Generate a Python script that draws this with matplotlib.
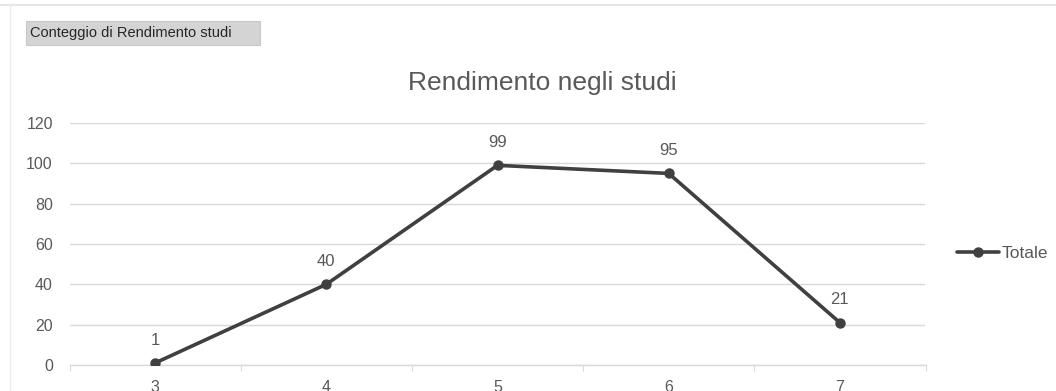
import matplotlib
matplotlib.use("Agg")
import matplotlib.pyplot as plt
from matplotlib.patches import Rectangle
from matplotlib.lines import Line2D

categories = ["3", "4", "5", "6", "7"]
totals = [1, 40, 99, 95, 21]
y_ticks = [0, 20, 40, 60, 80, 100, 120]
series_name = "Totale"
chart_title = "Rendimento negli studi"
field_button = "Conteggio di Rendimento studi"

W, H = 1056, 391
plt.rcParams["font.family"] = ["Liberation Sans", "DejaVu Sans"]
text_col = "#595959"
line_col = "#404040"
grid_col = "#d9d9d9"

fig = plt.figure(figsize=(W / 100, H / 100), dpi=100)
fig.patch.set_facecolor("white")

# frame edges of the chart area
fig.add_artist(Line2D([0, 1], [1 - 5 / H, 1 - 5 / H], transform=fig.transFigure, color="#e6e6e6", lw=1.5))
fig.add_artist(Line2D([10 / W, 10 / W], [0, 1 - 5 / H], transform=fig.transFigure, color="#ededed", lw=1))

# pivot field button
fig.add_artist(Rectangle((26 / W, 1 - 45 / H), 234 / W, 24 / H, transform=fig.transFigure,
                         facecolor="#d4d4d4", edgecolor="#c8c8c8", lw=0.8))
fig.text(30 / W, 1 - 33 / H, field_button, fontsize=10.5, color="#262626", va="center", ha="left")

fig.text(542 / W, 1 - 83 / H, chart_title, fontsize=19, color=text_col, ha="center", va="center")

left, right, top, bottom = 69.5, 925.5, 123, 365
ax = fig.add_axes([left / W, 1 - bottom / H, (right - left) / W, (bottom - top) / H])
x = list(range(len(categories)))
ax.plot(x, totals, color=line_col, lw=2.6, marker="o", ms=6.5, solid_capstyle="round", zorder=3, label=series_name)
for xi, v in zip(x, totals):
    ax.annotate(str(v), (xi, v), xytext=(0, 11), textcoords="offset points",
                ha="center", va="bottom", fontsize=12, color=text_col)

ax.set_xlim(-0.5, len(categories) - 0.5)
ax.set_ylim(0, 120)
ax.set_yticks(y_ticks)
ax.set_yticklabels([str(t) for t in y_ticks], fontsize=11.5, color=text_col)
ax.tick_params(axis="y", length=0, pad=12)
ax.yaxis.grid(True, color=grid_col, lw=1)
ax.set_axisbelow(True)

ax.set_xticks([i - 0.5 for i in range(len(categories) + 1)])
ax.set_xticklabels([])
ax.tick_params(axis="x", which="major", length=4, color=grid_col, direction="out")
ax.set_xticks(x, minor=True)
ax.set_xticklabels(categories, minor=True, fontsize=11.5, color=text_col)
ax.tick_params(axis="x", which="minor", length=0, pad=11)

for s in ["top", "right", "left"]:
    ax.spines[s].set_visible(False)
ax.spines["bottom"].set_color(grid_col)
ax.spines["bottom"].set_linewidth(1)

leg = fig.legend(loc="center left", bbox_to_anchor=(950 / W, 1 - 253 / H), frameon=False,
                 fontsize=12.5, handlelength=2.4, handletextpad=0.15, borderaxespad=0)
for t in leg.get_texts():
    t.set_color(text_col)

fig.savefig("out.png", dpi=100, facecolor="white")
